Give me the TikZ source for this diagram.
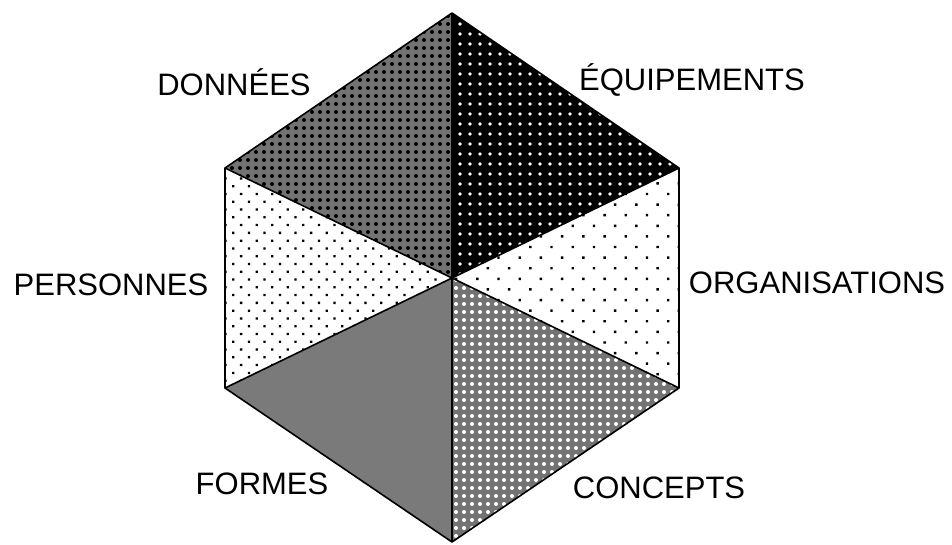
\documentclass[tikz,border=0pt]{standalone}
\usepackage{fontspec}
\setmainfont{Liberation Sans}
\usetikzlibrary{patterns.meta}

\begin{document}
\begin{tikzpicture}[x=1pt,y=-1pt,font=\fontsize{31}{36}\selectfont]
\tikzstyle{lbl}=[inner sep=0pt,anchor=base]
\tikzstyle{part}=[draw=black,line width=1.6pt,line join=round]
\useasboundingbox (0,0) rectangle (952,544);
\coordinate (m) at (452,278);
\coordinate (t) at (452,13); \coordinate (b) at (452,542);
\coordinate (ul) at (225,168); \coordinate (ll) at (225,388);
\coordinate (ur) at (679,168); \coordinate (lr) at (679,388);
% sectors
\fill[black!55] (m) -- (t) -- (ul) -- cycle; \fill[pattern={Dots[distance=8pt,radius=2pt]},pattern color=black] (m) -- (t) -- (ul) -- cycle;
\fill[black] (m) -- (t) -- (ur) -- cycle; \fill[pattern={Dots[distance=10pt,radius=1.8pt]},pattern color=white] (m) -- (t) -- (ur) -- cycle;
\fill[pattern={Dots[distance=15pt,angle=45,radius=1.7pt]},pattern color=black] (m) -- (ur) -- (lr) -- cycle;
\fill[black!55] (m) -- (lr) -- (b) -- cycle; \fill[pattern={Dots[distance=8pt,radius=2pt]},pattern color=white] (m) -- (lr) -- (b) -- cycle;
\fill[black!52] (m) -- (b) -- (ll) -- cycle;
\fill[pattern={Dots[distance=11pt,angle=45,radius=1.6pt]},pattern color=black] (m) -- (ll) -- (ul) -- cycle;
\draw[part] (t) -- (ur) -- (lr) -- (b) -- (ll) -- (ul) -- cycle;
\draw[part] (t) -- (b) (ul) -- (lr) (ll) -- (ur);
% labels
\node[lbl] (donnees) at (234,95) {DONNÉES};
\node[lbl] (equipements) at (692,90) {ÉQUIPEMENTS};
\node[lbl] (personnes) at (111,295) {PERSONNES};
\node[lbl] (organisations) at (817,293) {ORGANISATIONS};
\node[lbl] (formes) at (262,494) {FORMES};
\node[lbl] (concepts) at (659,498) {CONCEPTS};
\end{tikzpicture}
\end{document}
